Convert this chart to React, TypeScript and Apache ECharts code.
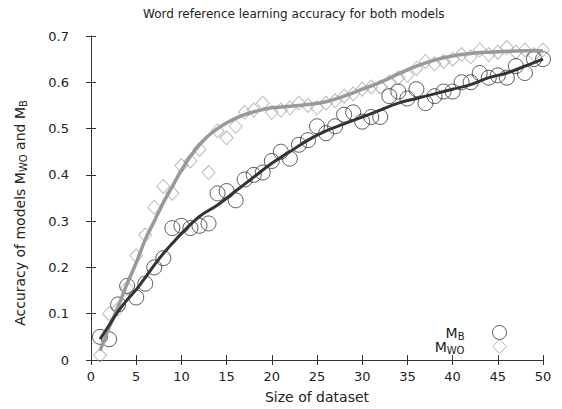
import React, { useEffect, useRef } from "react";
import * as echarts from "echarts";

const xValues = [1,2,3,4,5,6,7,8,9,10,11,12,13,14,15,16,17,18,19,20,21,22,23,24,25,26,27,28,29,30,31,32,33,34,35,36,37,38,39,40,41,42,43,44,45,46,47,48,49,50];

const mbValues = [0.05,0.045,0.12,0.16,0.135,0.165,0.2,0.22,0.285,0.29,0.285,0.29,0.295,0.36,0.365,0.345,0.39,0.4,0.405,0.43,0.45,0.435,0.465,0.475,0.505,0.49,0.505,0.53,0.535,0.515,0.525,0.525,0.57,0.58,0.565,0.585,0.555,0.57,0.58,0.58,0.6,0.6,0.62,0.61,0.615,0.61,0.635,0.62,0.65,0.65];

const mwoValues = [0.01,0.1,0.11,0.155,0.225,0.27,0.33,0.375,0.36,0.42,0.43,0.455,0.405,0.495,0.48,0.505,0.535,0.54,0.555,0.535,0.54,0.545,0.555,0.55,0.545,0.555,0.56,0.57,0.575,0.585,0.59,0.59,0.6,0.61,0.615,0.63,0.645,0.64,0.645,0.65,0.66,0.655,0.67,0.66,0.665,0.675,0.665,0.67,0.66,0.67];

const fitMbX = [1,2,3,4,5,6,7,8,9,10,12,14,16,18,20,22,24,26,28,30,32,34,36,38,40,42,44,46,48,50];
const fitMbY = [0.045,0.075,0.105,0.13,0.152,0.178,0.205,0.23,0.252,0.273,0.31,0.335,0.365,0.395,0.425,0.45,0.475,0.495,0.51,0.525,0.54,0.555,0.565,0.575,0.585,0.595,0.61,0.62,0.635,0.65];

const fitMwoX = [1,2,3,4,5,6,7,8,9,10,11,12,13,14,15,16,17,18,19,20,22,24,26,28,30,32,34,36,38,40,42,44,46,48,50];
const fitMwoY = [0.02,0.07,0.115,0.165,0.21,0.26,0.3,0.34,0.375,0.41,0.44,0.465,0.485,0.5,0.512,0.522,0.53,0.536,0.541,0.545,0.548,0.552,0.558,0.57,0.585,0.6,0.618,0.635,0.648,0.657,0.662,0.665,0.667,0.668,0.668];

const titleText = "Word reference learning accuracy for both models";
const xAxisName = "Size of dataset";

const FONT = "DejaVu Sans";
const TEXT = "#222";
const AXIS = "#333";

const sub = { fontSize: 10, lineHeight: 10, verticalAlign: "bottom" as const, fontFamily: FONT, color: TEXT };
const base = { fontSize: 14, lineHeight: 17, fontFamily: FONT, color: TEXT };
const legSub = { fontSize: 10, lineHeight: 10, verticalAlign: "bottom" as const, fontFamily: FONT, color: TEXT };
const legBase = { fontSize: 14, lineHeight: 17, fontFamily: FONT, color: TEXT };

export default function App() {
  const ref = useRef<HTMLDivElement>(null);
  useEffect(() => {
    if (!ref.current) return;
    const chart = echarts.init(ref.current, undefined, { renderer: "svg" });
    const zip = (xs: number[], ys: number[]) => xs.map((x, i) => [x, ys[i]]);
    const hiddenAxisBase = {
      axisLine: { show: true, lineStyle: { color: AXIS, width: 1 } },
      axisTick: { show: true, inside: true, length: 5, lineStyle: { color: AXIS } },
      axisLabel: { show: false },
      splitLine: { show: false },
    };
    chart.setOption({
      animation: false,
      backgroundColor: "#fff",
      title: {
        text: titleText,
        left: 138,
        top: 3,
        textStyle: { fontFamily: FONT, fontSize: 12, fontWeight: "normal", color: TEXT },
      },
      grid: { left: 91, right: 19, top: 36, bottom: 49 },
      legend: {
        data: ["MB", "MWO"],
        orient: "vertical",
        align: "right",
        right: 50,
        top: 320,
        itemWidth: 14,
        itemHeight: 14,
        itemGap: -2,
        itemStyle: { borderWidth: 1 },
        formatter: (name: string) => (name === "MB" ? "{b|M}{s|B}" : "{b|M}{s|WO}"),
        textStyle: {
          padding: [0, 23, 0, 0],
          rich: { b: legBase, s: legSub },
        },
      },
      xAxis: [
        {
          type: "value",
          min: 0,
          max: 50,
          interval: 5,
          name: xAxisName,
          nameLocation: "middle",
          nameGap: 30,
          nameTextStyle: { fontFamily: FONT, fontSize: 14, color: TEXT },
          axisLine: { show: true, lineStyle: { color: AXIS, width: 1 } },
          axisTick: { show: true, inside: true, length: 5, lineStyle: { color: AXIS } },
          axisLabel: { fontFamily: FONT, fontSize: 13, color: TEXT, margin: 10 },
          splitLine: { show: false },
        },
        { type: "value", position: "top", min: 0, max: 50, interval: 5, ...hiddenAxisBase },
      ],
      yAxis: [
        {
          type: "value",
          min: 0,
          max: 0.7,
          interval: 0.1,
          name: "{b|Accuracy of models M}{s|WO}{b| and M}{s|B}",
          nameLocation: "middle",
          nameGap: 63,
          nameTextStyle: { rich: { b: base, s: sub }, padding: [0, 30, 0, 0] },
          axisLine: { show: true, lineStyle: { color: AXIS, width: 1 } },
          axisTick: { show: true, inside: true, length: 5, lineStyle: { color: AXIS } },
          axisLabel: { fontFamily: FONT, fontSize: 13, color: TEXT, margin: 22 },
          splitLine: { show: false },
        },
        { type: "value", position: "right", min: 0, max: 0.7, interval: 0.1, ...hiddenAxisBase },
      ],
      series: [
        {
          name: "MWO",
          type: "scatter",
          symbol: "diamond",
          symbolSize: [13, 14],
          data: zip(xValues, mwoValues),
          itemStyle: { color: "rgba(255,255,255,0)", borderColor: "#aaa", borderWidth: 1 },
          z: 2,
        },
        {
          name: "MB",
          type: "scatter",
          symbol: "circle",
          symbolSize: 15,
          data: zip(xValues, mbValues),
          itemStyle: { color: "rgba(255,255,255,0)", borderColor: "#333", borderWidth: 1 },
          z: 3,
        },
        {
          name: "fitMWO",
          type: "line",
          smooth: 0.4,
          showSymbol: false,
          data: zip(fitMwoX, fitMwoY),
          lineStyle: { color: "#999", width: 3.5 },
          z: 4,
        },
        {
          name: "fitMB",
          type: "line",
          smooth: 0.4,
          showSymbol: false,
          data: zip(fitMbX, fitMbY),
          lineStyle: { color: "#333", width: 3 },
          z: 5,
        },
      ],
    });
    return () => chart.dispose();
  }, []);
  return <div ref={ref} style={{ position: "fixed", left: 0, top: 0, width: 562, height: 409 }} />;
}
